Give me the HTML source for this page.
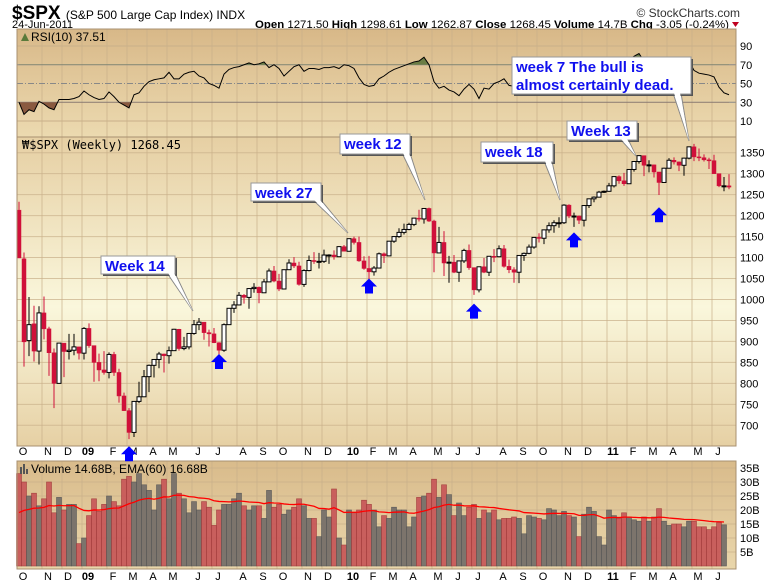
<!DOCTYPE html>
<html><head><meta charset="utf-8"><style>
html,body{margin:0;padding:0;background:#fff;}
svg{display:block;font-family:"Liberation Sans",sans-serif;}
</style></head><body>
<svg id="chart" width="780" height="586" viewBox="0 0 780 586" xmlns="http://www.w3.org/2000/svg">
<defs>
<linearGradient id="gPrice" x1="0" y1="0" x2="0" y2="1">
<stop offset="0" stop-color="#e6cfa3"/><stop offset="0.55" stop-color="#faf7dc"/><stop offset="1" stop-color="#e6d0a4"/></linearGradient>
<linearGradient id="gRsi" x1="0" y1="0" x2="0" y2="1">
<stop offset="0" stop-color="#d8b888"/><stop offset="1" stop-color="#ecdab0"/></linearGradient>
<linearGradient id="gVol" x1="0" y1="0" x2="0" y2="1">
<stop offset="0" stop-color="#d9bb8b"/><stop offset="1" stop-color="#e9d6ab"/></linearGradient>
<clipPath id="cAbove"><rect x="17" y="29" width="719" height="36"/></clipPath>
<clipPath id="cBelow"><rect x="17" y="102" width="719" height="35"/></clipPath>
</defs>
<g>
<text x="12" y="19" font-size="19" font-weight="bold" fill="#000">$SPX <tspan font-size="12" font-weight="normal">(S&amp;P 500 Large Cap Index) INDX</tspan></text>
<text x="740" y="17" font-size="12" text-anchor="end" fill="#333">© StockCharts.com</text>
<text x="12" y="28" font-size="11" fill="#000">24-Jun-2011</text>
<text x="255" y="28" font-size="11" fill="#000" textLength="474" lengthAdjust="spacingAndGlyphs"><tspan font-weight="bold">Open</tspan> 1271.50 <tspan font-weight="bold">High</tspan> 1298.61 <tspan font-weight="bold">Low</tspan> 1262.87 <tspan font-weight="bold">Close</tspan> 1268.45 <tspan font-weight="bold">Volume</tspan> 14.7B <tspan font-weight="bold">Chg</tspan> -3.05 (-0.24%)</text>
<path d="M732,22 L739,22 L735.5,27 Z" fill="#c00020"/>
</g>
<rect x="17" y="29" width="719" height="108" fill="url(#gRsi)"/>
<rect x="17" y="137" width="719" height="309" fill="url(#gPrice)"/>
<rect x="17" y="461" width="719" height="108" fill="url(#gVol)"/>
<g id="grid"></g>
<g id="rsiG"></g>
<g id="priceG"></g>
<g id="volG"></g>
<g id="axes"></g>
<rect x="17" y="29" width="719" height="108" fill="none" stroke="#a89070"/>
<rect x="17" y="137" width="719" height="309" fill="none" stroke="#a89070"/>
<rect x="17" y="461" width="719" height="108" fill="none" stroke="#a89070"/>
<text x="31" y="41" font-size="12" fill="#000">RSI(10) 37.51</text>
<path d="M21,41 L25,33 L29,41 Z" fill="#5a7a3a"/>
<text x="22" y="149" font-size="12" font-family="DejaVu Sans Mono, monospace" fill="#000">₩$SPX (Weekly) 1268.45</text>
<text x="31" y="473" font-size="12" fill="#000">Volume 14.68B, EMA(60) 16.68B</text>
<g fill="#555"><rect x="20" y="467" width="2" height="7"/><rect x="23" y="464" width="2" height="10"/><rect x="26" y="469" width="2" height="5"/></g>
<g id="callouts"></g>
<g id="arrows"></g>
</svg>
<script>
const ohlc=[[1213,1233,1099,1099],[1097,1112,840,899],[902,1006,865,940],[942,985,852,877],[877,984,845,968],[968,1007,905,930],[930,935,818,873],[873,883,741,800],[800,896,800,896],[896,896,815,876],[876,918,857,879],[879,918,867,887],[887,887,857,872],[872,934,857,931],[931,943,885,890],[890,890,804,850],[850,871,805,832],[832,877,821,826],[826,874,812,869],[869,875,818,826],[826,835,754,770],[770,778,734,735],[735,741,667,683],[683,758,672,757],[757,804,753,768],[768,832,768,816],[816,845,779,843],[843,857,814,857],[857,875,836,870],[870,871,826,866],[866,888,847,878],[878,930,878,929],[929,930,878,883],[883,911,879,887],[887,920,881,919],[919,951,916,940],[940,956,927,946],[946,946,904,921],[921,928,888,918],[918,932,896,897],[897,898,869,879],[879,943,875,940],[940,979,940,979],[979,996,968,987],[987,1018,986,1010],[1010,1013,990,1005],[1005,1027,978,1026],[1026,1039,1016,1029],[1029,1031,991,1016],[1016,1049,1016,1042],[1042,1074,1042,1068],[1068,1080,1041,1044],[1044,1061,1020,1025],[1025,1071,1025,1071],[1071,1096,1071,1087],[1087,1101,1075,1080],[1080,1090,1033,1036],[1036,1072,1030,1069],[1069,1105,1067,1093],[1093,1113,1085,1091],[1091,1111,1074,1091],[1091,1119,1087,1106],[1106,1108,1085,1106],[1106,1117,1095,1102],[1102,1127,1102,1126],[1126,1130,1115,1115],[1115,1145,1115,1145],[1145,1150,1131,1136],[1136,1150,1090,1092],[1092,1103,1071,1074],[1074,1104,1044,1066],[1066,1080,1057,1075],[1075,1112,1075,1109],[1109,1112,1087,1104],[1104,1139,1104,1139],[1139,1150,1135,1150],[1150,1170,1147,1160],[1160,1181,1155,1167],[1167,1183,1165,1179],[1179,1194,1175,1194],[1194,1214,1186,1192],[1192,1217,1181,1217],[1217,1219,1185,1187],[1187,1190,1065,1111],[1111,1173,1111,1136],[1136,1163,1056,1087],[1087,1104,1040,1089],[1089,1106,1063,1065],[1065,1092,1042,1092],[1092,1121,1087,1117],[1117,1131,1071,1076],[1076,1076,1011,1023],[1023,1078,1017,1078],[1078,1099,1063,1065],[1065,1103,1056,1103],[1103,1120,1089,1102],[1102,1129,1101,1121],[1121,1130,1076,1079],[1079,1095,1063,1071],[1071,1077,1040,1065],[1065,1105,1039,1105],[1105,1112,1092,1110],[1110,1131,1108,1125],[1125,1149,1121,1148],[1148,1158,1136,1146],[1146,1167,1132,1166],[1166,1184,1159,1176],[1176,1189,1159,1183],[1183,1196,1171,1183],[1183,1227,1180,1225],[1225,1227,1194,1199],[1199,1207,1173,1199],[1199,1200,1180,1189],[1189,1225,1174,1224],[1224,1240,1218,1240],[1240,1246,1232,1244],[1244,1259,1244,1256],[1256,1260,1254,1258],[1258,1278,1257,1271],[1271,1293,1267,1293],[1293,1296,1276,1283],[1283,1302,1271,1276],[1276,1311,1276,1310],[1310,1330,1305,1329],[1329,1344,1324,1343],[1343,1343,1294,1320],[1320,1332,1303,1321],[1321,1322,1291,1304],[1304,1304,1249,1279],[1279,1314,1279,1313],[1313,1337,1313,1332],[1332,1339,1322,1328],[1328,1329,1306,1320],[1320,1338,1295,1337],[1337,1364,1334,1364],[1364,1371,1330,1340],[1340,1360,1330,1338],[1338,1346,1329,1333],[1333,1338,1311,1331],[1331,1345,1300,1300],[1300,1300,1268,1271],[1271,1292,1258,1271],[1271,1299,1263,1268]];
const volumes=[33,30,25,26,21.5,24,30,19,24.5,20,22,22,8,10,18,24,19.5,22,25,23,21.5,31,32,30,33,29,27,20,29,31,24,33,26,24,19,23,20,23,21,14.5,20,22,22,24,26,21.5,20,21.5,21.5,17,27,21,22,18.5,20,21,24,21.5,17,17,10.5,20,17.5,27.5,10,7.5,20,19,20,23.5,22,20,14,18,17,21,20,20,14,17.5,24.5,25,26,31,24.5,29,25.5,18,22.5,18,21,22,17,20,19,20,16.5,17,17,17.5,17,11.5,18,17.5,17,16.5,20.5,20,18,19.5,18,17.5,10.5,18.5,21,19.5,10.5,7.5,20,18,17,19,17.5,16.5,16,17.5,16,17.5,20.5,16,14.5,15,15,14,16,16,14,14,13,14,15.5,14.7];
const rsi=[30,17,22,20,31,28,24,22,33,33,33,34,36,42,38,35,33,34,41,36,30,27,24,38,40,47,52,54,55,56,62,55,55,60,62,63,58,56,50,48,45,60,65,67,68,70,72,70,71,73,67,70,66,58,63,68,70,63,66,66,65,67,67,68,66,70,69,66,56,49,47,48,55,58,62,65,67,69,71,73,74,78,70,52,45,47,43,41,37,44,49,44,34,45,44,50,52,55,48,47,54,56,60,63,62,65,67,68,68,72,66,66,64,68,70,71,73,72,73,76,73,72,76,79,82,74,73,68,62,67,70,69,66,70,74,64,61,60,59,57,46,40,38];
const monthLabels=["O","N","D","09","F","M","A","M","J","J","A","S","O","N","D","10","F","M","A","M","J","J","A","S","O","N","D","11","F","M","A","M","J"];
const monthWeek=[0,5,9,13,18,22,26,30,35,39,44,48,52,57,61,66,70,74,78,83,87,91,96,100,104,109,113,118,122,126,130,135,139];
const priceTicks=[700,750,800,850,900,950,1000,1050,1100,1150,1200,1250,1300,1350];
const rsiTicks=[10,30,50,70,90];
const volTicks=[5,10,15,20,25,30,35];
const callouts=[
 {lines:["Week 14"],x:101,y:256,w:74,h:18,tx:193,ty:311},
 {lines:["week 27"],x:251,y:183,w:70,h:18,tx:348,ty:233},
 {lines:["week 12"],x:340,y:134,w:70,h:20,tx:425,ty:200},
 {lines:["week 18"],x:481,y:142,w:72,h:20,tx:560,ty:200},
 {lines:["Week 13"],x:567,y:121,w:70,h:19,tx:636,ty:156},
 {lines:["week 7 The bull is","almost certainly dead."],x:512,y:57,w:179,h:37,tx:689,ty:141}];
const arrowWeeks=[22,40,70,91,111,128];
const arrowPrices=[650,870,1050,990,1160,1220];

const NS="http://www.w3.org/2000/svg";
function el(tag,attrs,parent){const e=document.createElementNS(NS,tag);for(const k in attrs)e.setAttribute(k,attrs[k]);parent.appendChild(e);return e;}
const X=i=>19+i*5;
const PY=p=>152.7+(1350-p)*0.4194;
const RY=v=>121-(v-10)*0.9375;
const VY=v=>566-v*2.8;
const grid=document.getElementById('grid'),axes=document.getElementById('axes');
monthWeek.forEach((w,k)=>{
 const gx=X(w)-2;
 let l=el('line',{x1:gx,x2:gx,y1:29,y2:446,stroke:'#c9b08a','stroke-width':1,opacity:0.7},grid);
 
 
 let l2=el('line',{x1:gx,x2:gx,y1:461,y2:569,stroke:'#c9b08a','stroke-width':1,opacity:0.7},grid);
 
 
 [455,580].forEach(yy=>{
  const t=el('text',{x:gx+6,y:yy,'font-size':11,'text-anchor':'middle','font-weight':monthLabels[k].length>1?'bold':'normal',fill:'#000'},axes);
  t.textContent=monthLabels[k];
  
  
 });
});
priceTicks.forEach(p=>{
 const y=PY(p);
 const l=el('line',{x1:17,x2:736,y1:y,y2:y,stroke:'#c9b08a',opacity:0.7},grid);
 
 
 const t=el('text',{x:740,y:y+4,'font-size':11,fill:'#000'},axes);
 t.textContent=p;
 
 
});
rsiTicks.forEach(v=>{
 const y=RY(v);
 const strong=(v==30||v==70);
 const l=el('line',{x1:17,x2:736,y1:y,y2:y,stroke:strong?'#888':(v==50?'#888':'#c9b08a'),'stroke-dasharray':v==50?'6,2,1,2':'none'},grid);
 
 
 const t=el('text',{x:740,y:y+4,'font-size':11,fill:'#000'},axes);
 t.textContent=v;
 
 
});
volTicks.forEach(v=>{
 const y=VY(v);
 const l=el('line',{x1:17,x2:736,y1:y,y2:y,stroke:'#c9b08a',opacity:0.7},grid);
 
 
 const t=el('text',{x:740,y:y+4,'font-size':11,fill:'#000'},axes);
 t.textContent=v+'B';
 
 
});
const rsiG=document.getElementById('rsiG');
const pts=rsi.map((v,i)=>X(i)+','+RY(v)).join(' ');
const n=rsi.length;
const upA=el('polygon',{points:X(0)+','+RY(70)+' '+pts+' '+X(n-1)+','+RY(70),fill:'#6b7d45','clip-path':'url(#cAbove)'},rsiG);


const dnA=el('polygon',{points:X(0)+','+RY(30)+' '+pts+' '+X(n-1)+','+RY(30),fill:'#8a5a40','clip-path':'url(#cBelow)'},rsiG);


const rl=el('polyline',{points:pts,fill:'none',stroke:'#000','stroke-width':1},rsiG);


const priceG=document.getElementById('priceG');
ohlc.forEach((d,i)=>{
 const [o,h,l,c]=d;const x=X(i);
 const up=c>=o;
 const col=up?'#000':'#d0103a';
 const w=el('line',{x1:x,x2:x,y1:PY(h),y2:PY(l),stroke:col,'stroke-width':1},priceG);
 
 
 const top=PY(Math.max(o,c)),bh=Math.max(1,Math.abs(PY(o)-PY(c)));
 const b=el('rect',{x:x-2,y:top,width:4,height:bh,fill:up?'#fff':'#d0103a',stroke:col,'stroke-width':up?1:0.5},priceG);
 
 
});
const volG=document.getElementById('volG');
volumes.forEach((v,i)=>{
 if(i>=ohlc.length)return;
 const down=i>0?ohlc[i][3]<ohlc[i-1][3]:true;
 const r=el('rect',{x:X(i)-2.5,y:VY(v),width:5,height:566-VY(v),fill:down?'#c85a5a':'#77706a',stroke:down?'#a03a3a':'#555',opacity:0.95,'stroke-width':0.6},volG);
 
 
});
let ema=18,ep=[];const k=2/61;
volumes.forEach((v,i)=>{ema=ema+(v-ema)*k*2.2;ep.push(X(i)+','+VY(ema));});
const el2=el('polyline',{points:ep.join(' '),fill:'none',stroke:'#f00','stroke-width':1.3},volG);


const cg=document.getElementById('callouts');
callouts.forEach(c=>{
 const g=el('g',{},cg);
 
 
 const bx=Math.min(Math.max(c.tx-16,c.x+4),c.x+c.w-8);
 el('polygon',{points:(bx)+','+(c.y+c.h-1)+' '+(bx+8)+','+(c.y+c.h-1)+' '+c.tx+','+c.ty,fill:'#fff',stroke:'#888','stroke-width':1},g);
 el('rect',{x:c.x+2,y:c.y+2,width:c.w,height:c.h,fill:'#555'},g);
 el('rect',{x:c.x,y:c.y,width:c.w,height:c.h,fill:'#fff',stroke:'#999'},g);
 el('polygon',{points:(bx+1)+','+(c.y+c.h-1)+' '+(bx+7)+','+(c.y+c.h-1)+' '+c.tx+','+c.ty,fill:'#fff'},g);
 c.lines.forEach((s,j)=>{
  const t=el('text',{x:c.x+4,y:c.y+15+j*18,'font-size':15,'font-weight':'bold',fill:'#1010ee'},g);
  t.textContent=s;
 });
});
const ag=document.getElementById('arrows');
arrowWeeks.forEach((w,i)=>{
 const x=X(w),y=PY(arrowPrices[i]);
 const p=el('path',{d:`M${x},${y} L${x+8},${y+8} L${x+4},${y+8} L${x+4},${y+15} L${x-4},${y+15} L${x-4},${y+8} L${x-8},${y+8} Z`,fill:'#0000ff'},ag);
 
 
});
</script>
</body></html>
